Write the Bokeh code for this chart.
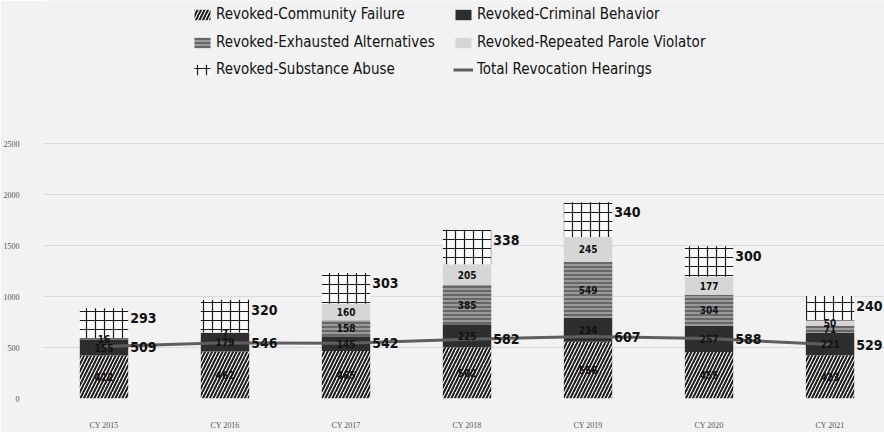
import numpy as np
from bokeh.plotting import figure
from bokeh.models import ColumnDataSource, Range1d, FixedTicker, Legend, LegendItem
from bokeh.core.properties import value
from bokeh.embed import file_html
from bokeh.resources import INLINE

years = ["CY 2015", "CY 2016", "CY 2017", "CY 2018", "CY 2019", "CY 2020", "CY 2021"]
community_failure = [422, 462, 465, 502, 556, 455, 423]
criminal_behavior = [155, 179, 145, 225, 234, 257, 221]
exhausted_alternatives = [16, 7, 158, 385, 549, 304, 71]
repeated_parole_violator = [0, 0, 160, 205, 245, 177, 50]
substance_abuse = [293, 320, 303, 338, 340, 300, 240]
total_revocation_hearings = [509, 546, 542, 582, 607, 588, 529]
y_ticks = [0, 500, 1000, 1500, 2000, 2500]

series_names = ["Revoked-Community Failure", "Revoked-Criminal Behavior",
                "Revoked-Exhausted Alternatives", "Revoked-Repeated Parole Violator",
                "Revoked-Substance Abuse"]
series_vals = [community_failure, criminal_behavior, exhausted_alternatives,
               repeated_parole_violator, substance_abuse]

BG = "#f2f2f2"
FONT = "DejaVu Sans Condensed"

x = np.arange(len(years))
vals = np.array(series_vals, dtype=float)
tops = np.cumsum(vals, axis=0)
bottoms = tops - vals

p = figure(width=884, height=432, output_backend="svg", toolbar_location=None,
           x_range=Range1d(-0.5, 6.45), y_range=Range1d(0, 3902),
           min_border_left=41, min_border_right=0, min_border_top=0, min_border_bottom=32,
           background_fill_color=BG, border_fill_color=BG, outline_line_color=None)

p.xgrid.grid_line_color = None
p.ygrid.grid_line_color = "#dadada"
p.ygrid.grid_line_width = 1
p.yaxis.ticker = FixedTicker(ticks=y_ticks)
p.xaxis.ticker = FixedTicker(ticks=list(x))
p.xaxis.major_label_overrides = {int(i): y for i, y in zip(x, years)}
for ax in (p.xaxis[0], p.yaxis[0]):
    ax.axis_line_color = None
    ax.major_tick_line_color = None
    ax.minor_tick_line_color = None
    ax.major_label_text_font = "Liberation Serif"
    ax.major_label_text_font_size = "8px"
    ax.major_label_text_color = "#555555"
p.xaxis.major_label_standoff = 16
p.yaxis.major_label_standoff = 18

styles = [
    dict(fill_color="#fafafa", hatch_pattern="/", hatch_color="#1a1a1a", hatch_scale=7, hatch_weight=2),
    dict(fill_color="#2e2e2e"),
    dict(fill_color="#9a9a9a", hatch_pattern="-", hatch_color="#555555", hatch_scale=4, hatch_weight=1.5),
    dict(fill_color="#d6d6d6"),
    dict(fill_color="#fafafa", hatch_pattern="+", hatch_color="#1a1a1a", hatch_scale=9, hatch_weight=1.2),
]

renderers = []
for k, name in enumerate(series_names):
    src = ColumnDataSource(dict(x=x, top=tops[k], bottom=bottoms[k], v=vals[k]))
    r = p.vbar(x="x", top="top", bottom="bottom", width=0.4, source=src,
               line_color=None, **styles[k])
    renderers.append(r)

line_src = ColumnDataSource(dict(x=x, y=total_revocation_hearings,
                                 t=[str(v) for v in total_revocation_hearings]))
line_r = p.line("x", "y", source=line_src, line_color="#5e5e5e", line_width=3)

# inner labels
for k in range(4):
    mask = vals[k] > 0
    src = ColumnDataSource(dict(x=x[mask], y=((tops[k] + bottoms[k]) / 2)[mask],
                                t=[str(int(v)) for v in vals[k][mask]]))
    p.text("x", "y", text="t", source=src, text_align="center", text_baseline="middle",
           text_font=value(FONT), text_font_size="10px", text_font_style="bold",
           text_color="#111111")

# substance abuse labels (outside right)
sa_src = ColumnDataSource(dict(x=x + 0.2, y=tops[4], t=[str(v) for v in substance_abuse]))
p.text("x", "y", text="t", source=sa_src, text_align="left", text_baseline="middle",
       x_offset=2, y_offset=10, text_font=value(FONT), text_font_size="14px",
       text_font_style="bold", text_color="#111111")

# total line labels
tl_src = ColumnDataSource(dict(x=x + 0.2, y=total_revocation_hearings,
                               t=[str(v) for v in total_revocation_hearings]))
p.text("x", "y", text="t", source=tl_src, text_align="left", text_baseline="middle",
       x_offset=2, text_font=value(FONT), text_font_size="14px",
       text_font_style="bold", text_color="#111111")

rows = [
    [(series_names[0], renderers[0]), (series_names[1], renderers[1])],
    [(series_names[2], renderers[2]), (series_names[3], renderers[3])],
    [(series_names[4], renderers[4]), ("Total Revocation Hearings", line_r)],
]
row_y = [375, 347, 320]
for (items, yy) in zip(rows, row_y):
    leg = Legend(items=[LegendItem(label=n, renderers=[r]) for n, r in items],
                 location=(149, yy), orientation="horizontal",
                 glyph_width=20, glyph_height=13, label_standoff=4, label_width=237,
                 label_height=16, spacing=0, padding=0, margin=0,
                 border_line_color=None, background_fill_alpha=0,
                 label_text_font=FONT, label_text_font_size="15px",
                 label_text_color="#111111")
    p.add_layout(leg, "center")

open("out.html", "w").write(file_html(p, INLINE))
